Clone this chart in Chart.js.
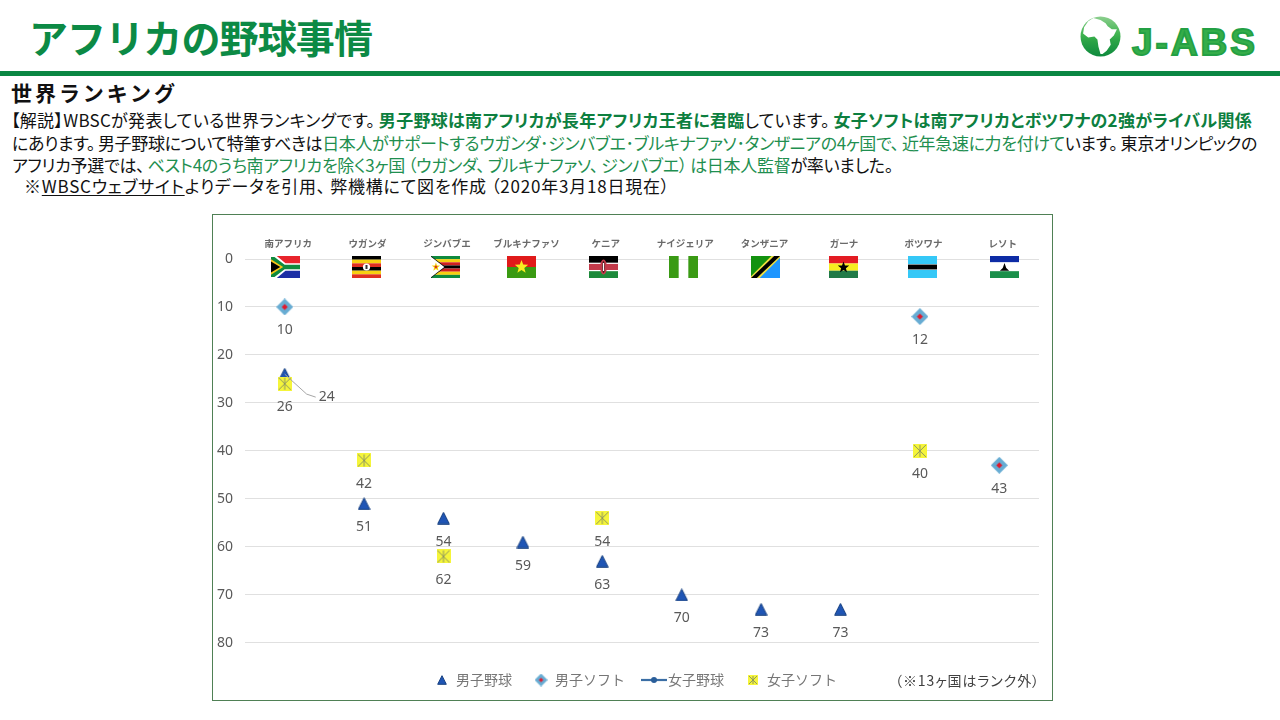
<!DOCTYPE html>
<html lang="ja"><head><meta charset="utf-8">
<script src="https://cdn.jsdelivr.net/npm/chart.js@4"></script>
<style>
html,body{margin:0;padding:0;background:#fff;width:1280px;height:720px;overflow:hidden}
body{font-family:"Noto Sans CJK JP","Noto Sans",sans-serif;color:#111}
.t{position:absolute;white-space:pre;line-height:1}
#title{left:29px;top:17px;font-size:39px;font-weight:700;color:#0c8a45}
#rule{position:absolute;left:0;top:71px;width:1280px;height:5px;background:#0a8743}
#sub{left:11px;top:82px;font-size:21px;font-weight:700;color:#111}
.b{font-size:17px;font-feature-settings:"palt"}
.g{color:#1f8f50}.s{color:#0d7f3f;font-weight:700}
u{text-underline-offset:2px}
#frame{position:absolute;left:212px;top:214px;width:839px;height:485px;border:1.5px solid #4f8055;box-sizing:content-box}
#cv{position:absolute;left:214px;top:215px}
#note{left:895px;top:673px;font-size:14px;color:#404040;font-feature-settings:"palt"}
#logoT{left:1132px;top:22px;font:700 37px "Liberation Sans",sans-serif;color:#35ad49;-webkit-text-stroke:1.8px #23a044}
#logo{position:absolute;left:1080px;top:16px}
</style></head><body>
<div id="title" class="t" data-w="343">アフリカの野球事情</div>
<svg id="logo" width="41" height="41" viewBox="0 0 40 40">
<defs><linearGradient id="lg" x1="0" y1="0" x2="0" y2="1"><stop offset="0" stop-color="#8ccf8e"/><stop offset=".45" stop-color="#3fb34f"/><stop offset=".62" stop-color="#2ba346"/><stop offset="1" stop-color="#0f8a3e"/></linearGradient></defs>
<circle cx="20" cy="20" r="19.5" fill="url(#lg)"/>
<path fill="#fff" d="M13 2 L20 4 L25 7 L27 10 L31 13 L36 13 L33 19 L29 23 L30 28 L26 34 L22 37 L20 37 L18 30 L17 23 L14 20 L8 21 L3 17 L4 11 L8 5Z"/>
</svg>
<div id="logoT" class="t" data-w="126">J-ABS</div>
<div id="rule"></div>
<div id="sub" class="t" data-w="167">世界ランキング</div>
<div class="t b" style="left:11px;top:111px" data-w="1241">【解説】WBSCが発表している世界ランキングです。&#8201;<span class="s">男子野球は南アフリカが長年アフリカ王者に君臨</span>しています。&#8201;<span class="s">女子ソフトは南アフリカとボツワナの2強がライバル関係</span></div>
<div class="t b" style="left:12px;top:134px" data-w="1245">にあります。&#8201;男子野球について特筆すべきは<span class="g">日本人がサポートするウガンダ･ジンバブエ･ブルキナファソ･タンザニアの4ヶ国で、&#8201;近年急速に力を付けて</span>います。&#8201;東京オリンピックの</div>
<div class="t b" style="left:12px;top:156px" data-w="881">アフリカ予選では、&#8201;<span class="g">ベスト4のうち南アフリカを除く3ヶ国&#8201;（ウガンダ、&#8201;ブルキナファソ、&#8201;ジンバブエ）&#8201;は日本人監督</span>が率いました。</div>
<div class="t b" style="left:24px;top:177px" data-w="646">※<u>WBSCウェブサイト</u>よりデータを引用、&#8201;弊機構にて図を作成&#8201;（2020年3月18日現在）</div>
<div id="frame"></div>
<canvas id="cv" width="844" height="482" style="width:844px;height:482px"></canvas>
<div id="note" class="t" data-w="145">（※13ヶ国はランク外）</div>
<script>
const countries = ["南アフリカ","ウガンダ","ジンバブエ","ブルキナファソ","ケニア","ナイジェリア","タンザニア","ガーナ","ボツワナ","レソト"];
const mensBaseball = [24,51,54,59,63,70,73,73,null,null];
const mensSoftball = [10,null,null,null,null,null,null,null,12,43];
const womensBaseball = [null,null,null,null,null,null,null,null,null,null];
const womensSoftball = [26,42,62,null,54,null,null,null,40,null];
const seriesNames = ["男子野球","男子ソフト","女子野球","女子ソフト"];
const yTicks = [0,10,20,30,40,50,60,70,80];

document.querySelectorAll('[data-w]').forEach(el=>{
  const w=el.getBoundingClientRect().width, n=el.textContent.length;
  el.style.letterSpacing=((+el.dataset.w-w)/n)+'px';
});

function mk(w,h,f){const c=document.createElement('canvas');c.width=w;c.height=h;f(c.getContext('2d'),w,h);return c;}
const tri=(s)=>mk(s,s,(c,w,h)=>{c.fillStyle='#1f55b5';c.strokeStyle='#17407f';c.lineWidth=1;c.beginPath();c.moveTo(w/2,.7);c.lineTo(w-.7,h-.7);c.lineTo(.7,h-.7);c.closePath();c.fill();c.stroke();});
const dia=(s)=>mk(s,s,(c,w,h)=>{const d=(p,col)=>{c.fillStyle=col;c.beginPath();c.moveTo(w/2,h/2-p);c.lineTo(w/2+p,h/2);c.lineTo(w/2,h/2+p);c.lineTo(w/2-p,h/2);c.closePath();c.fill();};d(s/2,'#67acd3');d(s/2*.36,'#e0192c');});
const yx=(s)=>mk(s,s,(c,w,h)=>{c.fillStyle='#f5f53a';c.fillRect(0,0,w,h);c.strokeStyle='#8d9660';c.lineWidth=1;c.beginPath();c.moveTo(1,1);c.lineTo(w-1,h-1);c.moveTo(w-1,1);c.lineTo(1,h-1);c.moveTo(w/2,1);c.lineTo(w/2,h-1);c.stroke();});
const lin=()=>mk(26,8,(c,w,h)=>{c.strokeStyle='#3b6ea5';c.lineWidth=2.2;c.beginPath();c.moveTo(0,h/2);c.lineTo(w,h/2);c.stroke();c.fillStyle='#2a5e9a';c.beginPath();c.arc(w/2,h/2,3,0,7);c.fill();});
const styles=[tri(13),dia(17),lin(),yx(14)], legendStyles=[tri(10),dia(13),lin(),yx(10)];

function flag(c,i,x,y,w,h){
  const band=(col,a,b)=>{c.fillStyle=col;c.fillRect(x,y+a*h,w,(b-a)*h);};
  const poly=(col,p)=>{c.fillStyle=col;c.beginPath();p.forEach((q,k)=>{const X=x+q[0]*w,Y=y+q[1]*h;k?c.lineTo(X,Y):c.moveTo(X,Y);});c.closePath();c.fill();};
  const star=(col,cx,cy,r)=>{c.fillStyle=col;c.beginPath();for(let k=0;k<10;k++){const R=k%2?r*.42:r,a=-Math.PI/2+k*Math.PI/5;const X=x+cx*w+R*Math.cos(a),Y=y+cy*h+R*Math.sin(a);k?c.lineTo(X,Y):c.moveTo(X,Y);}c.closePath();c.fill();};
  switch(i){
  case 0: band('#e8242c',0,.5);band('#1c2fa5',.5,1);
    poly('#fff',[[0,0],[.2,0],[.5,.33],[1,.33],[1,.67],[.5,.67],[.2,1],[0,1]]);
    poly('#0f8a3e',[[0,.05],[.12,.05],[.47,.4],[1,.4],[1,.6],[.47,.6],[.12,.95],[0,.95]]);
    poly('#f5c518',[[0,.15],[.42,.5],[0,.85]]);poly('#000',[[0,.25],[.32,.5],[0,.75]]);break;
  case 1: ['#000','#f7d011','#e03020','#000','#f7d011','#e03020'].forEach((k,j)=>band(k,j/6,(j+1)/6));
    c.fillStyle='#fff';c.beginPath();c.arc(x+w/2,y+h/2,3.6,0,7);c.fill();c.fillStyle='#333';c.fillRect(x+w/2-1,y+h/2-2,2,4);break;
  case 2: ['#0f8a3e','#f7d011','#d02020','#000','#d02020','#f7d011','#0f8a3e'].forEach((k,j)=>band(k,j/7,(j+1)/7));
    poly('#000',[[0,0],[.5,.5],[0,1]]);poly('#fff',[[0,.03],[.46,.5],[0,.97]]);star('#f7d011',.17,.5,4.5);star('#d02020',.17,.5,2);break;
  case 3: band('#e01a1a',0,.5);band('#3a9a12',.5,1);star('#f7ee20',.5,.5,7);break;
  case 4: band('#000',0,.31);band('#fff',.31,.36);band('#c33a4a',.36,.64);band('#fff',.64,.69);band('#1c8a3a',.69,1);
    c.fillStyle='#c33a4a';c.beginPath();c.ellipse(x+w/2,y+h/2,3.4,7.5,0,0,7);c.fill();c.fillStyle='#3a1a1a';c.beginPath();c.ellipse(x+w/2,y+h/2,1.2,6,0,0,7);c.fill();c.fillStyle='#fff';c.fillRect(x+w/2-.6,y+h/2-4,1.2,8);break;
  case 5: c.fillStyle='#3a9a14';c.fillRect(x,y,w/3,h);c.fillRect(x+2*w/3,y,w/3,h);break;
  case 6: poly('#13920f',[[0,0],[1,0],[0,1]]);poly('#1e96ff',[[1,0],[1,1],[0,1]]);
    poly('#f0e040',[[.7,0],[1,0],[1,.08],[.3,1],[0,1],[0,.92]]);poly('#000',[[.8,0],[1,0],[.2,1],[0,1]]);break;
  case 7: band('#e31b23',0,.34);band('#f7ee20',.34,.67);band('#217a47',.67,1);star('#000',.5,.52,6);break;
  case 8: band('#35c8f7',0,1);band('#fff',.37,.63);band('#000',.39,.61);break;
  case 9: band('#0d2ba5',0,.29);band('#fff',.29,.69);band('#1a8f4a',.69,1);
    poly('#000',[[.5,.32],[.56,.55],[.66,.67],[.34,.67],[.44,.55]]);break;
  }
}
const flagOffsets=[1,2,2,-1,1,2,4,3,3,5];

const decor={id:'decor',
  afterDraw(ch){
    const c=ch.ctx,xs=ch.scales.x,ys=ch.scales.y,top=ys.getPixelForValue(0);
    countries.forEach((n,i)=>flag(c,i,Math.round(xs.getPixelForValue(n)+flagOffsets[i]-14.5),top-3,29,22));
    c.save();c.font='14px "Noto Sans","DejaVu Sans",sans-serif';c.fillStyle='#595959';c.textAlign='center';c.textBaseline='middle';
    ch.data.datasets.forEach((d,di)=>{
      const m=ch.getDatasetMeta(di);
      d.data.forEach((v,i)=>{
        if(v==null)return;const p=m.data[i];
        if(di===0&&i===0){
          c.strokeStyle='#a6a6a6';c.lineWidth=1;c.beginPath();c.moveTo(p.x,p.y);c.lineTo(p.x+22,p.y+20);c.lineTo(p.x+31,p.y+23);c.stroke();
          c.fillText(v,p.x+42,p.y+23);
        } else c.fillText(v,p.x,p.y+23.5);
      });
    });
    c.restore();
  }};

const datasets=[mensBaseball,mensSoftball,womensBaseball,womensSoftball].map((data,i)=>({
  label:seriesNames[i],data,showLine:false,pointStyle:styles[i],order:i===2?0:(i===3?1:(i===1?2:3)),
  borderColor:'#3b6ea5',backgroundColor:'#2a5e9a',pointRadius:7,pointHoverRadius:7
}));

new Chart(document.getElementById('cv'),{
  type:'line',
  data:{labels:countries,datasets},
  plugins:[decor],
  options:{
    responsive:false,animation:false,devicePixelRatio:1,
    layout:{padding:{top:19,right:0,bottom:0,left:0}},
    events:[],
    scales:{
      x:{type:'category',position:'top',offset:true,
        grid:{display:false,drawTicks:false},border:{display:false},
        afterFit(s){s.height=25;},
        ticks:{autoSkip:false,maxRotation:0,labelOffset:3.5,padding:10,color:'#6a6a6a',font:{family:'"Noto Sans CJK JP"',size:9.5,weight:'700'}}},
      y:{reverse:true,min:0,max:80,
        afterFit(s){s.width=31;},
        afterBuildTicks(s){s.ticks=yTicks.map(value=>({value}));},
        grid:{color:'#e0e0e0',lineWidth:1,drawTicks:false},border:{display:false},
        ticks:{padding:12,color:'#595959',font:{family:'"Noto Sans","DejaVu Sans",sans-serif',size:14}}},
      spacer:{type:'linear',axis:'y',position:'right',min:0,max:80,
        afterFit(s){s.width=19;},
        grid:{display:false,drawTicks:false},border:{display:false},
        ticks:{display:false}}
    },
    plugins:{
      tooltip:{enabled:false},
      legend:{position:'bottom',
        title:{display:true,text:' ',padding:3.5,font:{size:1}},
        labels:{usePointStyle:true,boxWidth:14,padding:22,color:'#767676',font:{family:'"Noto Sans CJK JP"',size:14},
          generateLabels(ch){return seriesNames.map((text,i)=>({text,pointStyle:legendStyles[i],fontColor:'#767676',datasetIndex:i,hidden:false,lineWidth:0,strokeStyle:'transparent',fillStyle:'transparent'}));}}}
    }
  }
});
</script>
</body></html>
